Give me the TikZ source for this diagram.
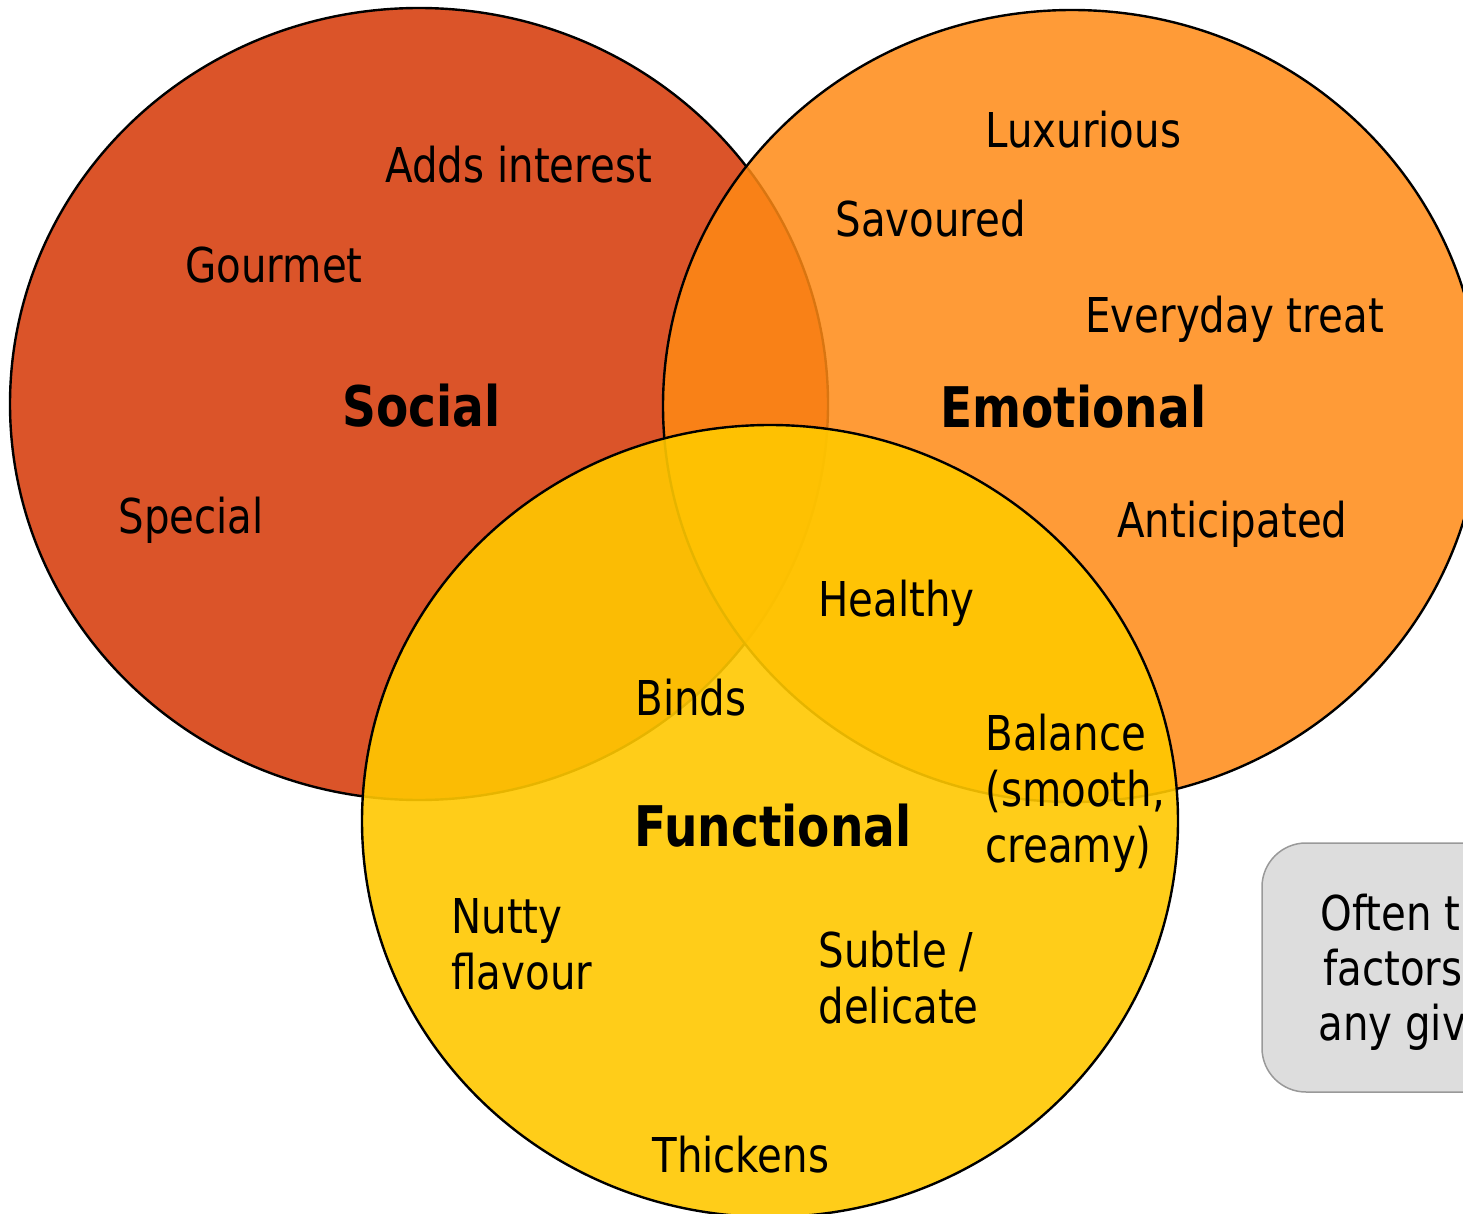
\documentclass[tikz,border=0pt]{standalone}
\usepackage{fontspec}
\setmainfont{DejaVu Sans}[FakeStretch=0.84]
\definecolor{socialc}{HTML}{DB5429}
\definecolor{emoc}{HTML}{FF8A14}
\definecolor{funcc}{HTML}{FFC800}
\definecolor{boxfill}{HTML}{DDDDDD}
\definecolor{boxline}{HTML}{999999}
\begin{document}
\begin{tikzpicture}[x=0.5pt,y=-0.5pt,
  lbl/.style={font=\fontsize{24}{28}\selectfont, inner sep=0pt, anchor=base west, align=left},
  ttl/.style={font=\fontsize{28}{32}\selectfont\bfseries, inner sep=0pt, anchor=base west},
  ring/.style={draw=black, line width=1.2pt}]
\useasboundingbox (0,0) rectangle (1463,1214);
\begin{scope}
\clip (0,0) rectangle (1463,1214);
% circles
\path[ring, fill=socialc] (419,404) ellipse [x radius=204.5pt, y radius=198pt];
\path[ring, fill=emoc, fill opacity=0.85] (1072,406) ellipse [x radius=204.5pt, y radius=198pt];
\path[ring, fill=funcc, fill opacity=0.9] (770,821) ellipse [x radius=204pt, y radius=198pt];
% grey box
\path[draw=boxline, line width=0.75pt, fill=boxfill, rounded corners=22pt] (1262,843) rectangle (1700,1092);
% labels
\node[lbl] (adds) at (385,183) {Adds interest};
\node[lbl] (gourmet) at (185,283) {Gourmet};
\node[ttl] (social) at (342,427) {Social};
\node[lbl] (special) at (118,533) {Special};
\node[lbl] (luxurious) at (985,148) {Luxurious};
\node[lbl] (savoured) at (835,237) {Savoured};
\node[lbl] (everyday) at (1085,333) {Everyday treat};
\node[ttl] (emotional) at (940,428) {Emotional};
\node[lbl] (anticipated) at (1117,538) {Anticipated};
\node[lbl] (healthy) at (818,616) {Healthy};
\node[lbl] (binds) at (635,715) {Binds};
\node[lbl] (balance) at (985,862) {Balance\\(smooth,\\creamy)};
\node[ttl] (functional) at (634,846) {Functional};
\node[lbl] (nutty) at (451,989) {Nutty\\flavour};
\node[lbl] (subtle) at (818,1023) {Subtle /\\delicate};
\node[lbl] (thickens) at (652,1172) {Thickens};
\node[lbl] (often) at (1320,930) {Often t};
\node[lbl] (factors) at (1323,985) {factors};
\node[lbl] (anygiv) at (1318,1040) {any giv};
\end{scope}
\end{tikzpicture}
\end{document}
